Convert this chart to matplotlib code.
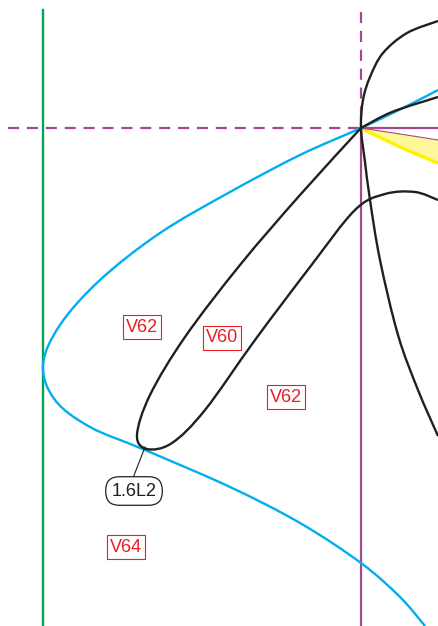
import matplotlib.pyplot as plt
from matplotlib.path import Path
from matplotlib.patches import PathPatch, Polygon

# figure coordinates are in pixels of the original drawing (y grows downward)
W, H = 438, 626

blue_curve = [(438, 90), (407, 106), (361, 128), (300, 155), (230, 192), (160, 233),
              (100, 280), (60, 325), (43, 365), (55, 400), (90, 427), (145, 450),
              (230, 487), (300, 523), (361, 563), (400, 597), (425, 626)]

black_outer = [(438, 21), (407, 33), (383, 53), (370, 77), (363, 100), (361, 128),
               (365, 162), (370, 200), (380, 260), (398, 335), (418, 390), (438, 436)]

black_upper = [(361, 128), (392, 112), (438, 97)]

black_loop = [(361, 128), (300, 195), (240, 265), (185, 337), (150, 395), (137, 435),
              (147, 449), (172, 443), (205, 410), (255, 340), (310, 267), (355, 210),
              (385, 194), (415, 192), (438, 200)]

yellow_top = [(361, 128), (400, 134), (438, 140)]
yellow_bottom = [(361, 128), (400, 147), (438, 163)]

labels = [("V62", 142, 327), ("V60", 222, 338), ("V62", 286, 397), ("V64", 126, 547)]
callout = ("1.6L2", 134, 491)
callout_tip = (145, 447)

BLUE = "#00aeef"
BLACK = "#231f20"
GREEN = "#00a651"
PURPLE = "#a4498f"
RED = "#ed1c24"

plt.rcParams['font.family'] = ['Liberation Sans', 'DejaVu Sans']


def smooth_path(pts):
    # Catmull-Rom through the points, as cubic Bezier segments
    verts = [pts[0]]
    codes = [Path.MOVETO]
    n = len(pts)
    for i in range(n - 1):
        p0 = pts[i - 1] if i > 0 else pts[i]
        p1 = pts[i]
        p2 = pts[i + 1]
        p3 = pts[i + 2] if i + 2 < n else pts[i + 1]
        c1 = (p1[0] + (p2[0] - p0[0]) / 6, p1[1] + (p2[1] - p0[1]) / 6)
        c2 = (p2[0] - (p3[0] - p1[0]) / 6, p2[1] - (p3[1] - p1[1]) / 6)
        verts += [c1, c2, p2]
        codes += [Path.CURVE4] * 3
    return Path(verts, codes)


fig = plt.figure(figsize=(W / 100, H / 100), dpi=100)
ax = fig.add_axes([0, 0, 1, 1])
ax.set_xlim(0, W)
ax.set_ylim(H, 0)
ax.axis("off")

# yellow wedge
wedge = yellow_top + yellow_bottom[::-1]
ax.add_patch(Polygon(wedge, closed=True, facecolor="#fff799", edgecolor="none", zorder=1))
ax.add_patch(PathPatch(smooth_path(yellow_bottom), fill=False, edgecolor="#fff200", lw=2.4, zorder=2))
ax.add_patch(PathPatch(smooth_path(yellow_top), fill=False, edgecolor=PURPLE, lw=0.8, zorder=2))

# reference lines
ax.plot([43, 43], [10, 626], color=GREEN, lw=1.7, zorder=3)
ax.plot([8, 361], [128, 128], color=PURPLE, lw=1.6, ls=(0, (5, 3.5)), zorder=3)
ax.plot([361, 438], [128, 128], color=PURPLE, lw=1.6, zorder=3)
ax.plot([361, 361], [12, 128], color=PURPLE, lw=1.6, ls=(0, (5, 3.5)), zorder=3)
ax.plot([361, 361], [128, 626], color=PURPLE, lw=1.6, zorder=3)

# curves
ax.add_patch(PathPatch(smooth_path(blue_curve), fill=False, edgecolor=BLUE, lw=1.7, zorder=4))
for c in (black_outer, black_upper, black_loop):
    ax.add_patch(PathPatch(smooth_path(c), fill=False, edgecolor=BLACK, lw=1.7, zorder=5))

# labels
for txt, x, y in labels:
    ax.text(x, y, txt, color=RED, fontsize=13, ha="center", va="center", zorder=6,
            bbox=dict(boxstyle="square,pad=0.18", facecolor="white", edgecolor=RED, lw=0.8))

txt, x, y = callout
ax.plot([callout_tip[0], x - 1], [callout_tip[1], y - 13], color=BLACK, lw=0.8, zorder=6)
ax.text(x, y, txt, color=BLACK, fontsize=13, ha="center", va="center", zorder=7,
        bbox=dict(boxstyle="round,pad=0.32,rounding_size=0.75", facecolor="white",
                  edgecolor=BLACK, lw=0.9))

fig.savefig("out.png", dpi=100)
